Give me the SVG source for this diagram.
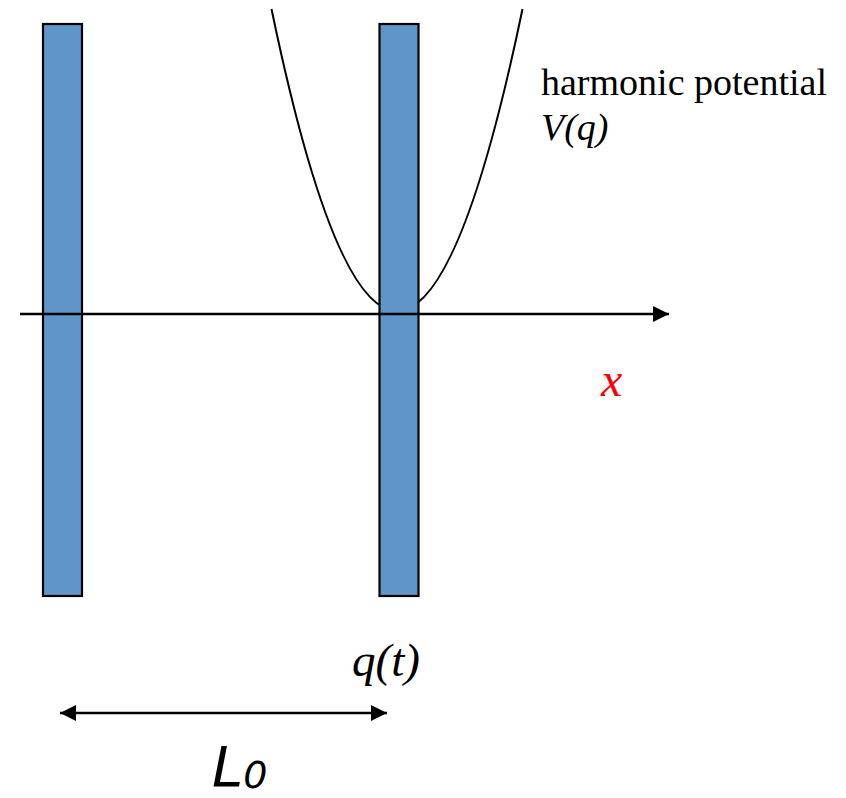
<svg xmlns="http://www.w3.org/2000/svg" width="846" height="798" viewBox="0 0 846 798">
<style>
.bar{fill:#5f95c9;stroke:#000;stroke-width:2.2}
.ln{stroke:#000;stroke-width:2.5;fill:none}
.tm{font-family:"Liberation Serif",serif;fill:#000}
.it{font-style:italic}
</style>
<defs>
<marker id="ah" markerWidth="16" markerHeight="16" viewBox="0 0 16 16" refX="16" refY="8" orient="auto" markerUnits="userSpaceOnUse">
<path d="M0,0 L16,8 L0,16 Z" fill="#000"/>
</marker>
<marker id="ah2" markerWidth="16" markerHeight="16" viewBox="0 0 16 16" refX="16" refY="8" orient="auto-start-reverse" markerUnits="userSpaceOnUse">
<path d="M0,0 L16,8 L0,16 Z" fill="#000"/>
</marker>
</defs>
<g id="potential">
<path d="M271.5,9 Q397,613 522.5,9" fill="none" stroke="#000" stroke-width="2"/>
</g>
<g id="wall-left"><rect class="bar" x="43" y="24" width="39" height="572"/></g>
<g id="wall-right"><rect class="bar" x="379.5" y="24" width="39" height="572"/></g>
<g id="connectors">
<line class="ln" x1="20" y1="314" x2="669" y2="314" marker-end="url(#ah)"/>
<line class="ln" x1="60" y1="713" x2="387" y2="713" marker-start="url(#ah2)" marker-end="url(#ah2)"/>
</g>
<g id="labels">
<text class="tm" x="541" y="95" font-size="38">harmonic potential</text>
<text class="tm it" x="541" y="140" font-size="38">V(q)</text>
<text class="tm it" x="601" y="396" font-size="48" style="fill:#ff0000">x</text>
<text class="tm it" x="352" y="676" font-size="47">q(t)</text>
<text x="212" y="786" font-family="'DejaVu Sans',sans-serif" font-size="56" font-style="italic">L<tspan font-size="38" dy="2">0</tspan></text>
</g>
</svg>
